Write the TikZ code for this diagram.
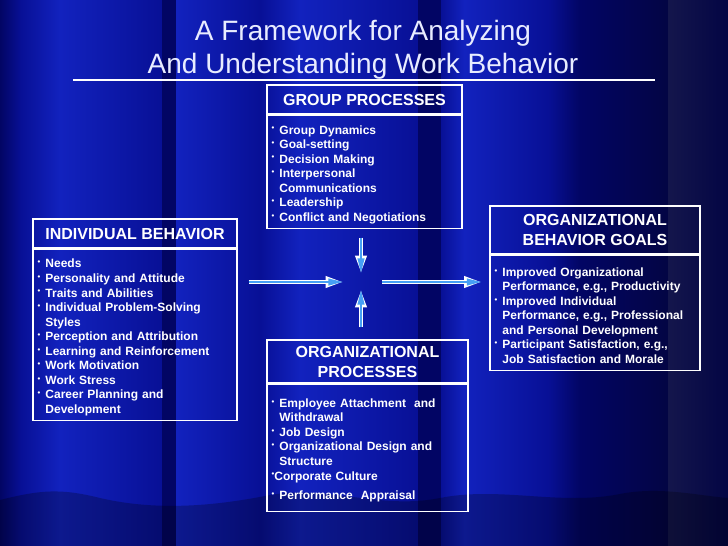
\documentclass[tikz,border=0pt]{standalone}
\usepackage{fontspec}
\setmainfont{Liberation Sans}
\usetikzlibrary{arrows.meta,positioning}
\definecolor{bgblue}{RGB}{8,16,150}
\definecolor{bgdark}{RGB}{2,5,100}
\definecolor{bglite}{RGB}{18,34,190}
\definecolor{bgnavy}{RGB}{3,5,68}
\definecolor{bggrey}{RGB}{20,22,76}
\definecolor{arrblue}{RGB}{70,160,245}
\definecolor{titlewhite}{RGB}{232,236,255}
\newcommand{\itemdot}{\raisebox{0.5ex}{\scalebox{0.65}{\textbullet}}}
\newcommand{\bul}{\itemdot\hspace{0.42em}}
\newcommand{\ind}{\hphantom{\bul}}

\begin{document}
\begin{tikzpicture}[x=0.75pt,y=-0.75pt,
    hdr/.style={rectangle, draw=white, line width=0.8pt, text=white, align=center, inner sep=0pt, font=\bfseries\fontsize{12}{15}\selectfont},
    lst/.style={rectangle, draw=white, line width=0.8pt, text=white, align=left, inner xsep=3.5pt, inner ysep=0pt, font=\bfseries\fontsize{9}{10.9}\selectfont,
      execute at begin node=\rule{0pt}{11pt}},
    flow/.style={draw=white, line width=3.2pt, -{Stealth[length=13pt,width=8pt,inset=0pt]},
      postaction={draw=arrblue, line width=1.4pt, -{Stealth[length=11pt,width=5pt,inset=0pt]}}},
    ttl/.style={text=titlewhite, align=center, font=\fontsize{21}{24.75}\selectfont}
]
\useasboundingbox (0,0) rectangle (728,546);

% background curtain
\fill[bgblue] (0,0) rectangle (728,546);
\foreach \xa/\xb/\ca/\cb in {0/21/bgdark/bgblue, 21/60/bgblue/bglite, 60/162/bglite/bgblue,
    162/176/bgdark/bgdark, 176/260/bglite/bgblue, 260/300/bgblue/bglite, 300/418/bglite/bgblue,
    418/441/bgdark/bgdark, 441/464/bgblue/bglite, 464/548/bglite/bgblue, 548/580/bgblue/bgdark,
    580/668/bgdark/bgnavy}
  \shade[left color=\ca, right color=\cb] (\xa,0) rectangle (\xb,546);
\shade[left color=bggrey, right color=bgnavy] (668,0) rectangle (728,546);
\fill[black, fill opacity=0.25] (0,500) .. controls (40,490) and (60,488) .. (100,498)
  .. controls (160,512) and (220,505) .. (270,495) .. controls (330,485) and (380,510) .. (440,498)
  .. controls (500,486) and (560,506) .. (620,494) .. controls (660,486) and (700,496) .. (728,498)
  -- (728,546) -- (0,546) -- cycle;

% title
\node[ttl] (title) at (363,49.5) {A Framework for Analyzing\\And Understanding Work Behavior};
\draw[white, line width=1.6pt] (73,80) coordinate (ruleL) -- (655,80) coordinate (ruleR);

% group processes
\node[hdr, minimum width=146.25pt, minimum height=21.75pt] (grp) at (364.5,99.5) {GROUP PROCESSES};
\node[lst, text width=139.25pt, minimum height=84.75pt, below=0pt of grp] (grpl) {%
\bul Group Dynamics\\
\bul Goal-setting\\
\bul Decision Making\\
\bul Interpersonal\\
\ind Communications\\
\bul Leadership\\
\bul Conflict and Negotiations};

% individual behavior
\node[hdr, minimum width=153pt, minimum height=21.75pt] (ind) at (135,233.5) {INDIVIDUAL BEHAVIOR};
\node[lst, text width=146pt, minimum height=128.25pt, below=0pt of ind] (indl) {%
\bul Needs\\
\bul Personality and Attitude\\
\bul Traits and Abilities\\
\bul Individual Problem-Solving\\
\ind Styles\\
\bul Perception and Attribution\\
\bul Learning and Reinforcement\\
\bul Work Motivation\\
\bul Work Stress\\
\bul Career Planning and\\
\ind Development};

% organizational behavior goals
\node[hdr, minimum width=157.5pt, minimum height=36pt] (goal) at (595,230) {ORGANIZATIONAL\\BEHAVIOR GOALS};
\node[lst, text width=150.5pt, minimum height=86.25pt, below=0pt of goal] (goall) {%
\bul Improved Organizational\\
\ind Performance, e.g., Productivity\\
\bul Improved Individual\\
\ind Performance, e.g., Professional\\
\ind and Personal Development\\
\bul Participant Satisfaction, e.g.,\\
\ind Job Satisfaction and Morale};

% organizational processes
\node[hdr, minimum width=150.75pt, minimum height=32.25pt] (org) at (367.5,361.5) {ORGANIZATIONAL\\PROCESSES};
\node[lst, text width=143.75pt, minimum height=95.25pt, below=0pt of org] (orgl) {%
\bul Employee Attachment\ \ and\\
\ind Withdrawal\\
\bul Job Design\\
\bul Organizational Design and\\
\ind Structure\\
\itemdot Corporate Culture\\[4pt]
\bul Performance\ \ Appraisal};

% arrows into the centre and out to the goals
\coordinate (hub) at (361,282);
\draw[flow, shorten <=8.25pt, shorten >=13.5pt] (indl.east |- hub) -- (hub);
\draw[flow, shorten <=6.75pt, shorten >=6.75pt] (hub |- grpl.south) -- (hub);
\draw[flow, shorten <=9pt, shorten >=6pt] (hub |- org.north) -- (hub);
\draw[flow, shorten <=15.75pt, shorten >=6pt] (hub) -- (goall.west |- hub);
\end{tikzpicture}
\end{document}
